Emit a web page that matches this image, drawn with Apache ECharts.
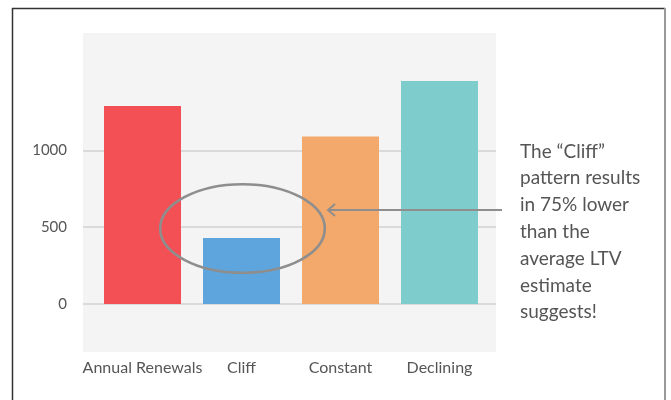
<!DOCTYPE html>
<html>
<head>
<meta charset="utf-8">
<script src="https://cdn.jsdelivr.net/npm/echarts@6/dist/echarts.min.js"></script>
<style>
  html, body { margin: 0; padding: 0; background: #fff; }
  #chart { width: 671px; height: 400px; }
</style>
</head>
<body>
<div id="chart"></div>
<script>
// LTV by renewal pattern

const categories = ['Annual Renewals', 'Cliff', 'Constant', 'Declining'];
const values = [1290, 430, 1090, 1453];
const barColors = ['#f25055', '#5da5dc', '#f3a96b', '#7ecccb'];
const yTicks = [0, 500, 1000];
const noteLines = ['The \u201cCliff\u201d', 'pattern results', 'in 75% lower', 'than the', 'average LTV', 'estimate', 'suggests!'];

const font = 'Lato, "Open Sans", sans-serif';
const textColor = '#555';
const annoColor = '#8e8e8e';

const chart = echarts.init(document.getElementById('chart'));

const option = {
    animation: false,
    backgroundColor: '#fff',
    grid: [
        // grey panel + grid lines
        { left: 83, width: 413, top: 33, height: 319, show: true,
          backgroundColor: '#f4f4f4', borderWidth: 0 },
        // bars
        { left: 93, width: 396, top: 33, height: 319 }
    ],
    xAxis: [
        { gridIndex: 0, type: 'category', data: categories, show: false },
        {
            gridIndex: 1,
            type: 'category',
            data: categories,
            axisLine: { show: false, onZero: false },
            axisTick: { show: false },
            axisLabel: { interval: 0, fontFamily: font, fontSize: 16, color: textColor, margin: 8 }
        }
    ],
    yAxis: [
        {
            gridIndex: 0,
            type: 'value',
            min: -313,
            max: 1765,
            axisLine: { show: false },
            axisTick: { show: false },
            axisLabel: {
                customValues: yTicks,
                formatter: v => String(v),
                fontFamily: font, fontSize: 15, color: textColor, margin: 16
            },
            splitLine: { show: false }
        },
        { gridIndex: 1, type: 'value', min: -313, max: 1765, show: false }
    ],
    series: [
        {
            // carries the grid lines across the grey panel
            type: 'line',
            xAxisIndex: 0,
            yAxisIndex: 0,
            data: [],
            silent: true,
            z: 1,
            markLine: {
                silent: true,
                z: 1,
                symbol: 'none',
                label: { show: false },
                lineStyle: { color: '#dadada', width: 2, type: 'solid' },
                data: yTicks.map(v => ({ yAxis: v }))
            }
        },
        {
            type: 'bar',
            xAxisIndex: 1,
            yAxisIndex: 1,
            barWidth: 77,
            z: 10,
            data: values.map((v, i) => ({ value: v, itemStyle: { color: barColors[i] } }))
        }
    ],
    graphic: [
        // frame
        { type: 'line', shape: { x1: 12.5, y1: 8, x2: 12.5, y2: 400 },
          style: { stroke: '#333', lineWidth: 1.5 } },
        { type: 'line', shape: { x1: 12, y1: 8.5, x2: 665, y2: 8.5 },
          style: { stroke: '#333', lineWidth: 1.5 } },
        { type: 'line', shape: { x1: 665, y1: 8, x2: 665, y2: 400 },
          style: { stroke: '#999', lineWidth: 2 } },
        // ellipse round the Cliff bar
        { type: 'ellipse', z: 100, shape: { cx: 242.5, cy: 228.5, rx: 82.3, ry: 44.3 },
          style: { fill: 'none', stroke: annoColor, lineWidth: 2.6 } },
        // arrow
        { type: 'line', z: 100, shape: { x1: 502, y1: 210, x2: 328, y2: 210 },
          style: { stroke: annoColor, lineWidth: 2.2 } },
        { type: 'polyline', z: 100, shape: { points: [[335, 204], [328, 210], [335, 216]] },
          style: { fill: 'none', stroke: annoColor, lineWidth: 2 } },
        // note
        { type: 'text', left: 520, top: 138,
          style: { text: noteLines.join('\n'), fontFamily: font, fontSize: 19,
                   lineHeight: 26.8, fill: textColor } }
    ]
};

chart.setOption(option);

window.addEventListener('resize', () => chart.resize());
</script>
</body>
</html>
